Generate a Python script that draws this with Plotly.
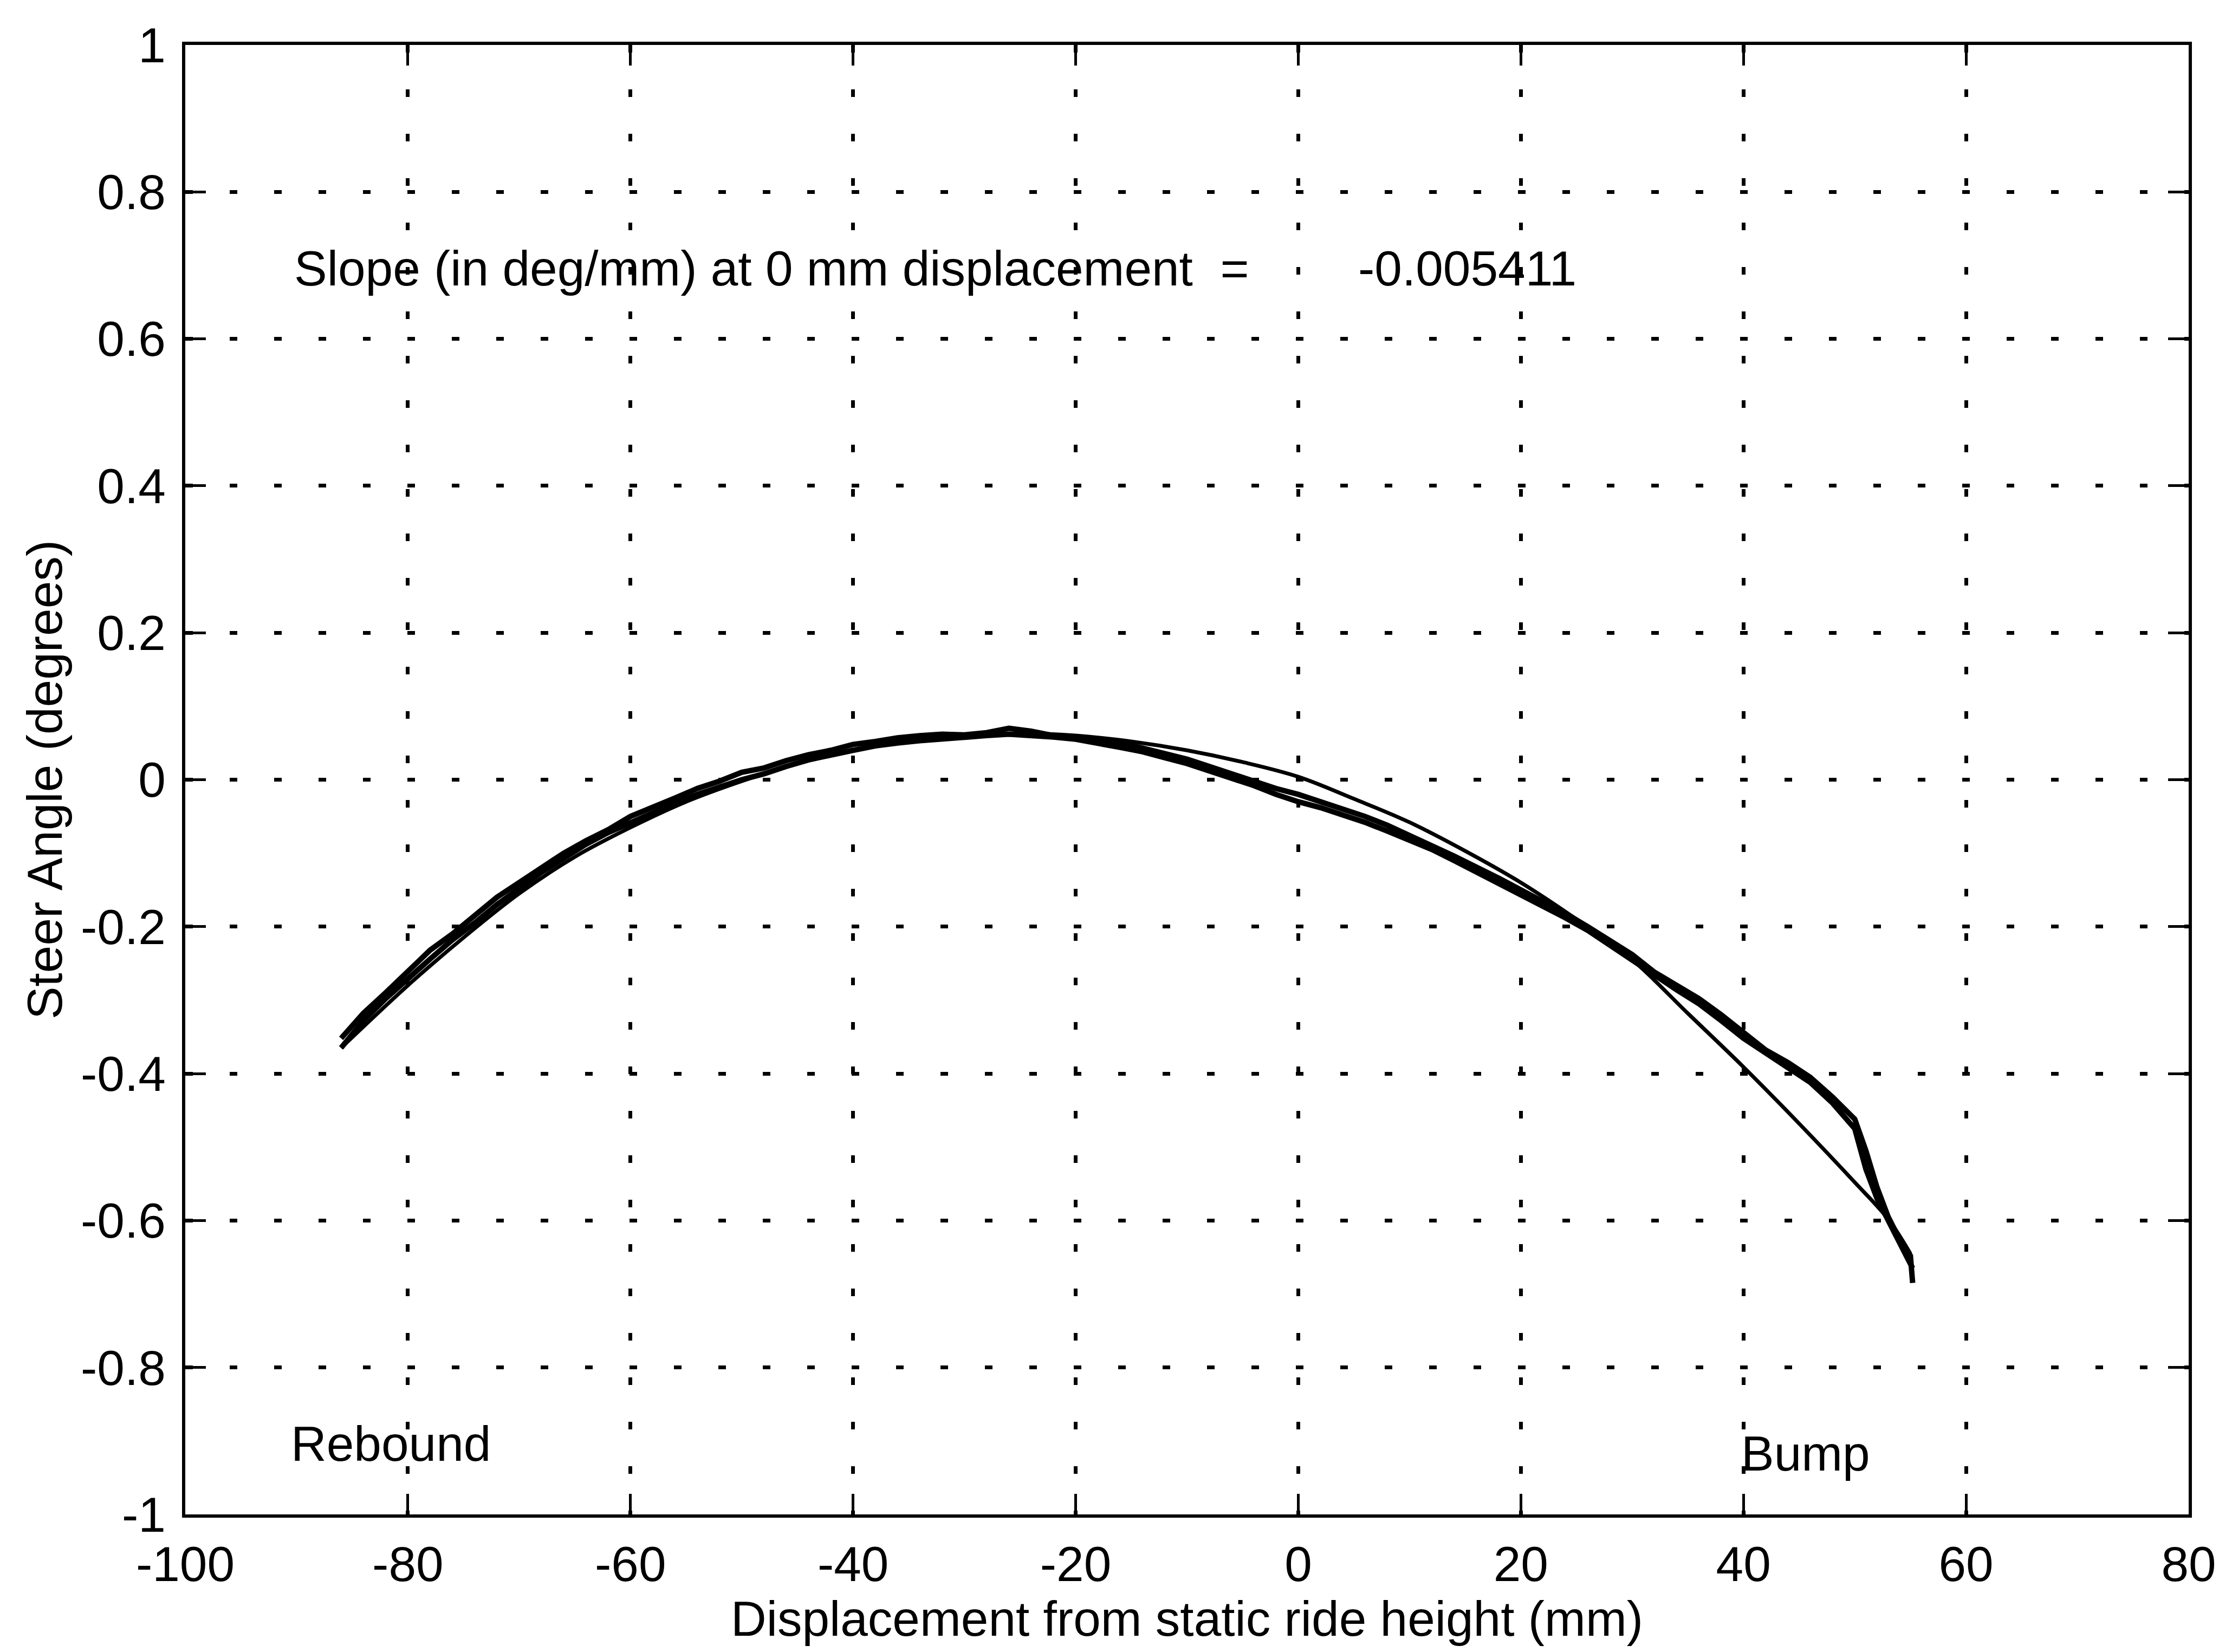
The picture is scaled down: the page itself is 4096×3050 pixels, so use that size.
import plotly.graph_objects as go

# Measured data, pass A (rebound -> bump)
pass_a_x = [-86, -84, -82, -80, -78, -76, -74, -72, -70, -68, -66, -64, -62, -60, -58, -56,
            -54, -52, -50, -48, -46, -44, -42, -40, -38, -36, -34, -32, -30, -28, -26, -24,
            -22, -20, -18, -16, -14, -12, -10, -8, -6, -4, -2, 0, 2, 4, 6, 8, 10, 12, 14, 16,
            18, 20, 22, 24, 26, 28, 30, 32, 34, 36, 38, 40, 42, 44, 46, 48, 50, 51, 52, 53,
            54, 55, 55.2]
pass_a_y = [-0.352, -0.318, -0.290, -0.262, -0.232, -0.210, -0.186, -0.160, -0.140, -0.120,
            -0.100, -0.083, -0.068, -0.050, -0.038, -0.025, -0.012, -0.002, 0.010, 0.016,
            0.026, 0.034, 0.040, 0.048, 0.052, 0.057, 0.060, 0.062, 0.061, 0.064, 0.070,
            0.066, 0.060, 0.058, 0.054, 0.050, 0.043, 0.036, 0.028, 0.018, 0.008, -0.002,
            -0.012, -0.020, -0.030, -0.040, -0.050, -0.062, -0.075, -0.090, -0.104, -0.118,
            -0.134, -0.150, -0.165, -0.182, -0.200, -0.220, -0.238, -0.262, -0.280, -0.298,
            -0.320, -0.345, -0.368, -0.385, -0.405, -0.432, -0.462, -0.505, -0.555, -0.595,
            -0.625, -0.648, -0.685]

# Measured data, pass B (bump -> rebound)
pass_b_x = [55.2, 54, 53, 52, 51, 50, 48, 46, 44, 42, 40, 38, 36, 34, 32, 30, 28, 26, 24, 22,
            20, 18, 16, 14, 12, 10, 8, 6, 4, 2, 0, -2, -4, -6, -8, -10, -12, -14, -16, -18,
            -20, -22, -24, -26, -28, -30, -32, -34, -36, -38, -40, -42, -44, -46, -48, -50,
            -52, -54, -56, -58, -60, -62, -64, -66, -68, -70, -72, -74, -76, -78, -80, -82,
            -84, -86]
pass_b_y = [-0.665, -0.630, -0.600, -0.570, -0.530, -0.475, -0.440, -0.412, -0.392, -0.372,
            -0.352, -0.328, -0.305, -0.286, -0.266, -0.245, -0.225, -0.205, -0.188, -0.172,
            -0.156, -0.140, -0.124, -0.110, -0.095, -0.082, -0.070, -0.058, -0.048, -0.038,
            -0.030, -0.020, -0.008, 0.002, 0.012, 0.022, 0.030, 0.038, 0.044, 0.050, 0.055,
            0.058, 0.060, 0.062, 0.060, 0.058, 0.056, 0.053, 0.050, 0.046, 0.040, 0.034,
            0.027, 0.018, 0.008, 0.000, -0.010, -0.020, -0.032, -0.045, -0.057, -0.072,
            -0.088, -0.106, -0.126, -0.148, -0.170, -0.195, -0.218, -0.244, -0.270, -0.298,
            -0.328, -0.365]

# Smooth fitted curve
fit_x = [-86, -80, -75, -70, -65, -60, -55, -50, -45, -40, -35, -30, -25, -20, -15, -10, -5,
         0, 5, 10, 15, 20, 25, 30, 35, 40, 45, 50, 53, 55]
fit_y = [-0.365, -0.280, -0.215, -0.155, -0.105, -0.065, -0.030, -0.002, 0.022, 0.040, 0.052,
         0.060, 0.063, 0.060, 0.052, 0.040, 0.024, 0.004, -0.026, -0.058, -0.097, -0.140,
         -0.190, -0.245, -0.318, -0.391, -0.468, -0.548, -0.598, -0.645]

x_ticks = [-100, -80, -60, -40, -20, 0, 20, 40, 60, 80]
y_ticks = [-1, -0.8, -0.6, -0.4, -0.2, 0, 0.2, 0.4, 0.6, 0.8, 1]
y_tick_text = ["-1", "-0.8", "-0.6", "-0.4", "-0.2", "0", "0.2", "0.4", "0.6", "0.8", "1"]

FONT = "Liberation Sans, Arial, Helvetica, sans-serif"
FS = 91

fig = go.Figure()
fig.add_trace(go.Scatter(x=fit_x, y=fit_y, mode="lines", line_shape="spline",
                         line=dict(color="black", width=7), showlegend=False))
fig.add_trace(go.Scatter(x=pass_a_x, y=pass_a_y, mode="lines",
                         line=dict(color="black", width=10), showlegend=False))
fig.add_trace(go.Scatter(x=pass_b_x, y=pass_b_y, mode="lines",
                         line=dict(color="black", width=10), showlegend=False))

axis_common = dict(
    showline=True, linecolor="black", linewidth=6, mirror="ticks",
    ticks="inside", ticklen=38, tickwidth=5, tickcolor="black",
    showgrid=True, gridcolor="black", gridwidth=7, griddash="14px,68px",
    zeroline=False,
    tickfont=dict(family=FONT, size=FS, color="black"),
)

fig.update_xaxes(range=[-100, 80], tickvals=x_ticks, ticktext=[str(v) for v in x_ticks],
                 title=dict(text="Displacement from static ride height (mm)",
                            font=dict(family=FONT, size=FS, color="black"), standoff=10),
                 ticklabelstandoff=8,
                 **axis_common)
fig.update_yaxes(range=[-1, 1], tickvals=y_ticks, ticktext=y_tick_text,
                 title=dict(text="Steer Angle (degrees)",
                            font=dict(family=FONT, size=FS, color="black"), standoff=6),
                 ticklabelstandoff=12,
                 **axis_common)

ann_font = dict(family=FONT, size=FS, color="black")
fig.add_annotation(x=-90.3, y=0.696, text="Slope (in deg/mm) at 0 mm displacement  =",
                   showarrow=False, xanchor="left", yanchor="middle", font=ann_font)
fig.add_annotation(x=5.3, y=0.696, text="-0.005411",
                   showarrow=False, xanchor="left", yanchor="middle", font=ann_font)
fig.add_annotation(x=-90.6, y=-0.904, text="Rebound",
                   showarrow=False, xanchor="left", yanchor="middle", font=ann_font)
fig.add_annotation(x=39.7, y=-0.917, text="Bump",
                   showarrow=False, xanchor="left", yanchor="middle", font=ann_font)

fig.update_layout(
    width=4096, height=3050,
    margin=dict(l=334, r=64, t=75, b=262, autoexpand=False),
    paper_bgcolor="white", plot_bgcolor="white",
    font=dict(family=FONT, size=FS, color="black"),
)

fig.write_html("out.html")
